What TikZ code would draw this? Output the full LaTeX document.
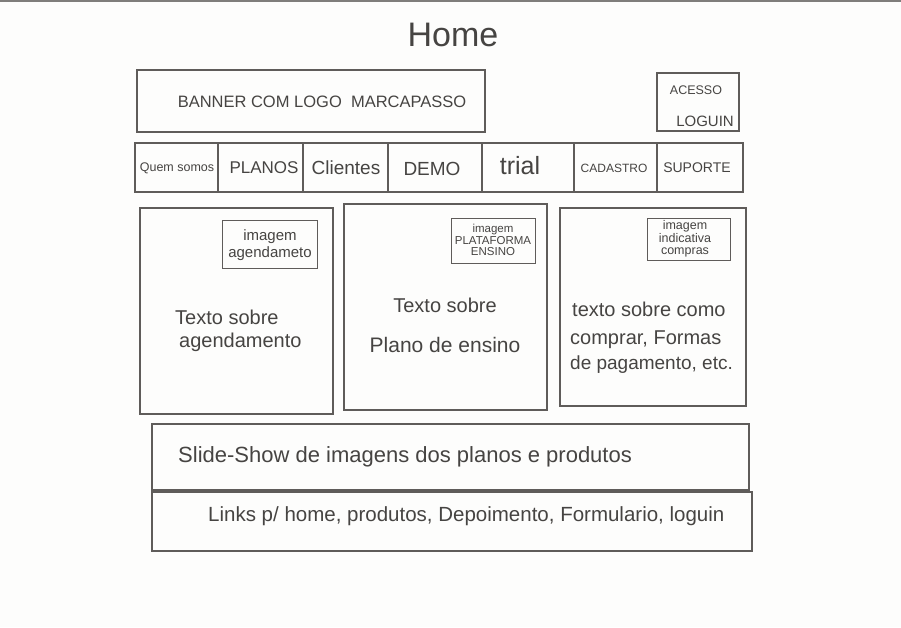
\documentclass[tikz,border=0pt]{standalone}
\usepackage{fontspec}
\setmainfont{Liberation Sans}
\definecolor{pencil}{RGB}{95,92,90}
\definecolor{graphite}{RGB}{70,68,66}
\definecolor{paper}{RGB}{253,253,252}
\tikzset{
  box/.style={draw=pencil, line width=1.3pt},
  imgbox/.style={draw=pencil, line width=1.0pt},
  label/.style={text=graphite, inner sep=0pt, align=center},
  fs/.style={font=\fontsize{#1pt}{1.15\dimexpr #1pt\relax}\selectfont},
  fst/.style={font=\fontsize{#1pt}{1.0\dimexpr #1pt\relax}\selectfont},
}
\begin{document}
\begin{tikzpicture}[x=1pt,y=-1pt]
  % sheet
  \fill[paper] (0,0) rectangle (901,627);
  \useasboundingbox (0,0) rectangle (901,627);
  \draw[pencil!80, line width=2pt] (0,1) -- (901,1);

  % title
  \node[label, fs=34] (title) at (453,35) {Home};

  % header
  \draw[box] (137,70) rectangle (485,132);
  \node[label, fs=16.5] (banner) at (322,102) {BANNER COM LOGO \ MARCAPASSO};
  \draw[box] (657,73) rectangle (739,131);
  \node[label, fs=12.5] (acesso) at (696,90) {ACESSO};
  \node[label, fs=15] (loguin) at (705,121) {LOGUIN};

  % navigation bar
  \draw[box] (135,143) rectangle (743,192);
  \foreach \x in {218,303,388,482,574,657}
    \draw[box] (\x,143) -- (\x,192);
  \node[label, fs=12.5] (quem) at (177,168) {Quem somos};
  \node[label, fs=17] (planos) at (264,168) {PLANOS};
  \node[label, fs=19] (clientes) at (346,168) {Clientes};
  \node[label, fs=19] (demo) at (432,169) {DEMO};
  \node[label, fs=25] (trial) at (520,166) {trial};
  \node[label, fs=12] (cadastro) at (614,168) {CADASTRO};
  \node[label, fs=14] (suporte) at (697,168) {SUPORTE};

  % panel: scheduling
  \draw[box] (140,208) rectangle (333,414);
  \draw[imgbox] (222,220) rectangle (317,268);
  \node[label, fs=15] (img1) at (270,245) {imagem\\agendameto};
  \node[label, fs=20, anchor=west] (txt1a) at (175,317) {Texto sobre};
  \node[label, fs=20, anchor=west] (txt1b) at (179,342) {agendamento};

  % panel: teaching plan
  \draw[box] (344,204) rectangle (547,410);
  \draw[imgbox] (451,218) rectangle (535,263);
  \node[label, fst=11.5] (img2) at (493,240) {imagem\\PLATAFORMA\\ENSINO};
  \node[label, fs=20] (txt2a) at (445,305) {Texto sobre};
  \node[label, fs=21] (txt2b) at (445,345) {Plano de ensino};

  % panel: purchase
  \draw[box] (560,208) rectangle (746,406);
  \draw[imgbox] (647,218) rectangle (730,260);
  \node[label, fst=12.5] (img3) at (685,239) {imagem\\indicativa\\compras};
  \node[label, fs=20, anchor=west] (txt3a) at (572,309) {texto sobre como};
  \node[label, fs=20, anchor=west] (txt3b) at (570,340) {comprar, Formas};
  \node[label, fs=19, anchor=west] (txt3c) at (570,365) {de pagamento, etc.};

  % slide show
  \draw[box] (152,424) rectangle (749,490);
  \node[label, fs=22, anchor=west] (slide) at (178,457) {Slide-Show de imagens dos planos e produtos};

  % footer links
  \draw[box] (152,492) rectangle (752,551);
  \node[label, fs=20.5, anchor=west] (links) at (208,516) {Links p/ home, produtos, Depoimento, Formulario, loguin};
\end{tikzpicture}
\end{document}
